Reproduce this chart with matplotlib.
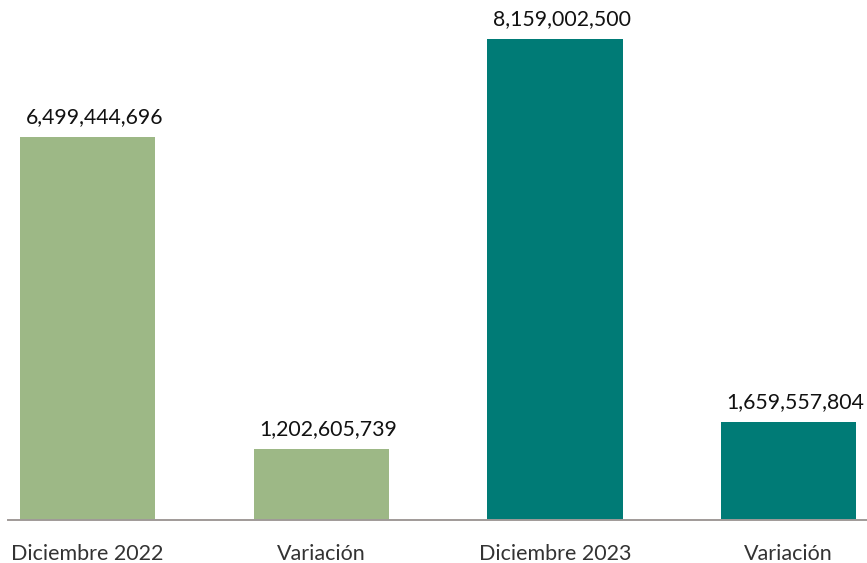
import matplotlib.pyplot as plt

categories = ['Diciembre 2022', 'Variación', 'Diciembre 2023', 'Variación']
values = [6499444696, 1202605739, 8159002500, 1659557804]
colors = ['#9db886', '#9db886', '#007b76', '#007b76']

plt.rcParams['font.family'] = ['Lato', 'DejaVu Sans']

fig = plt.figure(figsize=(8.67, 5.63), dpi=100)
ax = fig.add_axes([8/867, 43/563, 859/867, 520/563])

x = range(len(values))
bars = ax.bar(x, values, width=0.578, color=colors)
for b, v in zip(bars, values):
    ax.text(b.get_x() + b.get_width()/2 + 0.03, v + 1.7e8, f'{v:,}',
            ha='center', va='bottom', fontsize=15.3, color='#111111')

ax.set_xlim(-0.34, 3.335)
ax.set_ylim(0, 8.82e9)
ax.set_xticks(list(x))
ax.set_xticklabels(categories, fontsize=15.5, color='#333333')
ax.tick_params(axis='x', length=0, pad=17)
ax.set_yticks([])
for s in ['top', 'right', 'left']:
    ax.spines[s].set_visible(False)
ax.spines['bottom'].set_color('#a09a98')
ax.spines['bottom'].set_linewidth(1.4)

fig.savefig('out.png', dpi=100)
